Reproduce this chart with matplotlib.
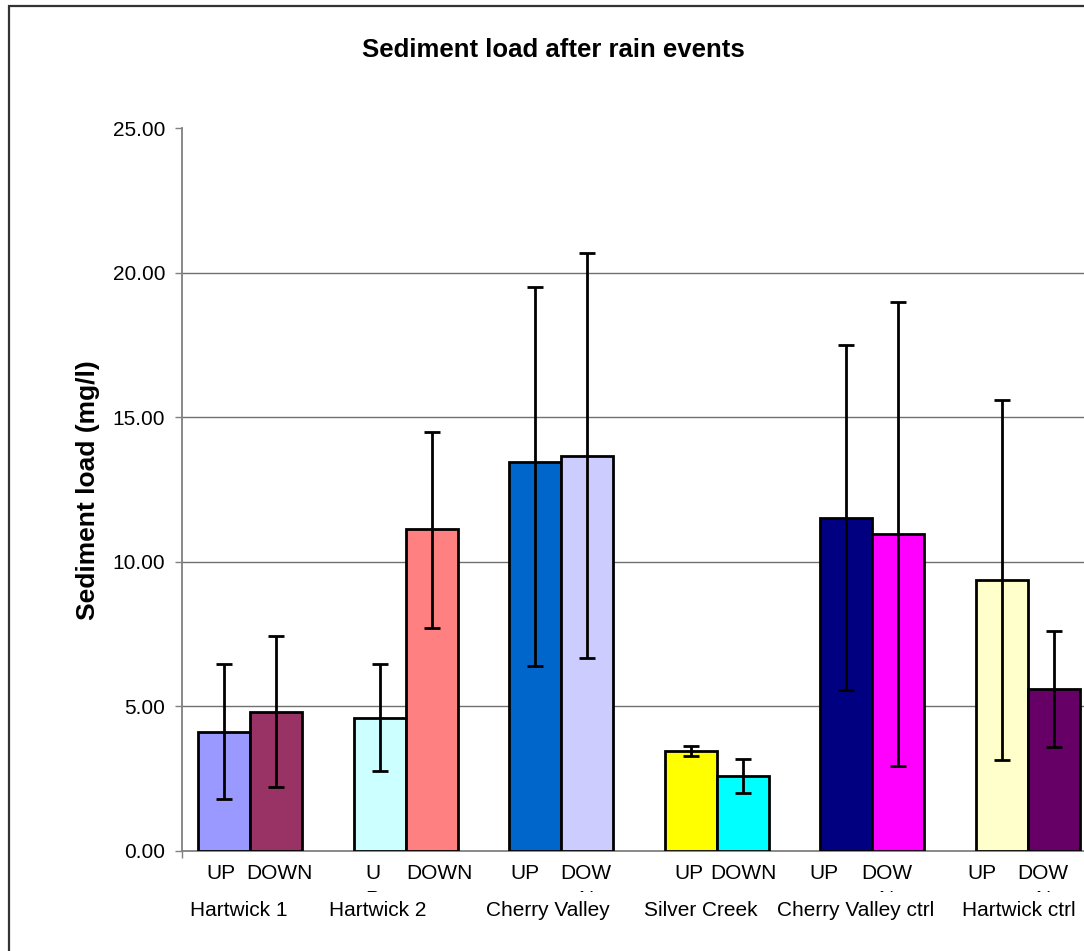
import matplotlib
matplotlib.use("Agg")
import numpy as np
import matplotlib.pyplot as plt
from matplotlib.patches import Rectangle
from matplotlib.transforms import Bbox, offset_copy

plt.rcParams['font.family'] = ['Liberation Sans', 'DejaVu Sans']

# data
sites = ["Hartwick 1", "Hartwick 2", "Cherry Valley", "Silver Creek",
         "Cherry Valley ctrl", "Hartwick ctrl"]
positions = ["UP", "DOWN"] * 6
# what Excel actually shows of the wrapped labels (first line / clipped rest)
shown_first = ["UP", "DOWN", "U", "DOWN", "UP", "DOW",
               "UP", "DOWN", "UP", "DOW", "UP", "DOW"]
shown_rest = ["", "", "P", "", "", "N", "", "", "", "N", "", "N"]
means = [4.12, 4.82, 4.61, 11.12, 13.44, 13.67, 3.46, 2.60, 11.53, 10.97, 9.36, 5.60]
err_lo = [2.32, 2.62, 1.83, 3.41, 7.03, 7.00, 0.18, 0.58, 5.98, 8.02, 6.22, 2.02]
err_hi = [2.33, 2.61, 1.84, 3.37, 6.06, 7.02, 0.17, 0.57, 5.96, 8.02, 6.24, 2.00]
colors = ["#9999FF", "#993366", "#CCFFFF", "#FF8080", "#0066CC", "#CCCCFF",
          "#FFFF00", "#00FFFF", "#000080", "#FF00FF", "#FFFFCC", "#660066"]
yticks = [0, 5, 10, 15, 20, 25]

# label nudges in pixels (Excel places wrapped labels a bit off-centre)
lab_dx = [-3, 3, -7, 8, -10, -1, -2, 1, -22, -12, -20, -11]
site_dx = [-11, -28, -13, -16, -17, -9]

W, H = 1084, 951
fig = plt.figure(figsize=(W / 100, H / 100), dpi=100)
ax = fig.add_axes([182 / W, 1 - 851 / H, 1 - 182 / W, (851 - 128) / H])

half = 0.167
groups = np.arange(len(sites))
bar_x = np.repeat(groups, 2) + np.tile([-half, half], len(sites))

ax.bar(bar_x, means, width=2 * half, color=colors, edgecolor="black",
       linewidth=2.0, zorder=3)
ax.errorbar(bar_x, means, yerr=[err_lo, err_hi], fmt="none", ecolor="black",
            elinewidth=2.0, capsize=5.6, capthick=2.0, zorder=4)

for v in yticks[1:-1]:
    ax.axhline(v, color="#707070", lw=1, zorder=1)

ax.set_ylim(0, 25)
ax.set_xlim(-0.437, 5.36)
ax.set_yticks(yticks)
ax.set_yticklabels(["%.2f" % v for v in yticks])
ax.set_xticks([-0.437])
ax.set_xticklabels([""])
ax.tick_params(axis="both", direction="out", length=5, width=1,
               color="#808080", labelsize=15, pad=7)
for s in ["top", "right"]:
    ax.spines[s].set_visible(False)
for s in ["left", "bottom"]:
    ax.spines[s].set_color("#808080")
    ax.spines[s].set_linewidth(1.3)

# two-level category labels
base = ax.get_xaxis_transform()
clip = Bbox.from_extents(0, H - 892, W, H - 886)
for i in range(len(bar_x)):
    tr = offset_copy(base, fig=fig, x=lab_dx[i], y=0, units="dots")
    ax.text(bar_x[i], -(879 - 851) / 723, shown_first[i], transform=tr,
            ha="center", va="baseline", fontsize=15)
    if shown_rest[i]:
        t = ax.text(bar_x[i], -(905 - 851) / 723, shown_rest[i], transform=tr,
                    ha="center", va="baseline", fontsize=15, clip_on=True)
        t.set_clip_box(clip)
for g, name in enumerate(sites):
    tr = offset_copy(base, fig=fig, x=site_dx[g], y=0, units="dots")
    ax.text(groups[g], -(916 - 851) / 723, name, transform=tr,
            ha="center", va="baseline", fontsize=15)

fig.text(553.5 / W, 1 - 57 / H, "Sediment load after rain events",
         ha="center", va="baseline", fontsize=18.5, fontweight="bold")
fig.text(88 / W, 1 - 490 / H, "Sediment load (mg/l)", rotation=90,
         ha="center", va="center", fontsize=19, fontweight="bold")

# chart area border (cut off at right and bottom)
fig.add_artist(Rectangle((9 / W, -0.1), 1.2, 1.1 - 6 / H, transform=fig.transFigure,
                         fill=False, edgecolor="#333333", lw=1.6))

fig.savefig("out.png", dpi=100)
